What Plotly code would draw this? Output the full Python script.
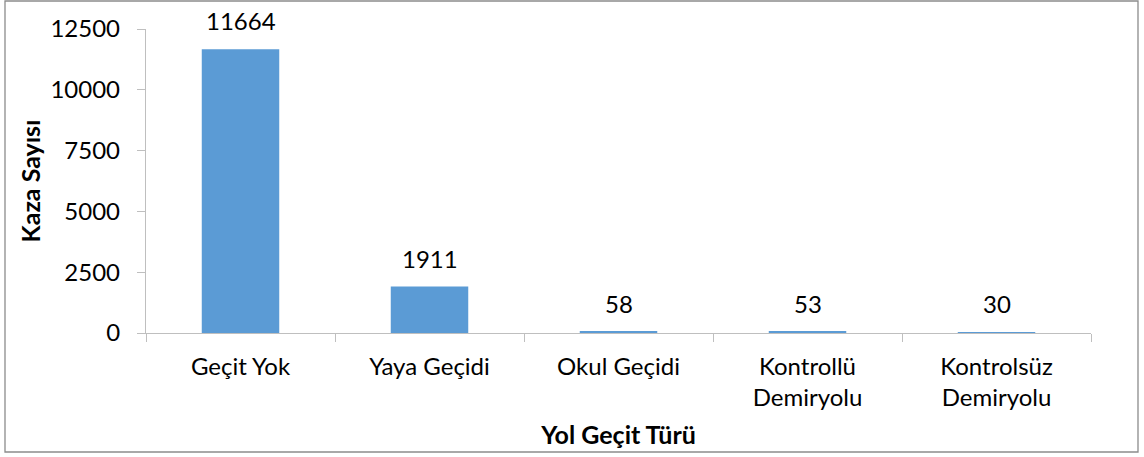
import plotly.graph_objects as go

categories = ["Geçit Yok", "Yaya Geçidi", "Okul Geçidi", "Kontrollü<br>Demiryolu", "Kontrolsüz<br>Demiryolu"]
values = [11664, 1911, 58, 53, 30]
y_ticks = [0, 2500, 5000, 7500, 10000, 12500]

W, H = 1144, 457
ml, mr, mt, mb = 146, 53, 29, 124
pw, ph = W - ml - mr, H - mt - mb

def px_x(x):
    return (x - ml) / pw

def px_y(y):
    return (H - mb - y) / ph

font = "Lato, 'Open Sans', sans-serif"
fs = 24

fig = go.Figure(go.Bar(
    x=categories, y=values,
    marker=dict(color="#5B9BD5", line=dict(width=0)),
    width=0.41,
    hoverinfo="x+y",
))

for c, v in zip(categories, values):
    fig.add_annotation(
        x=c, y=v, xref="x", yref="y", text=str(v), showarrow=False,
        yanchor="bottom", yshift=12, font=dict(family=font, size=fs, color="#000000"),
    )

fig.update_layout(
    width=W, height=H,
    margin=dict(l=ml, r=mr, t=mt, b=mb, autoexpand=False),
    paper_bgcolor="white", plot_bgcolor="white",
    showlegend=False,
    font=dict(family=font, size=fs, color="#000000"),
    xaxis=dict(
        automargin=False,
        showline=True, linecolor="#BFBFBF", linewidth=1.3,
        ticks="outside", tickson="boundaries", ticklen=8, tickcolor="#BFBFBF",
        showgrid=False, tickfont=dict(size=fs), ticklabelstandoff=12,
        title=dict(text="<b>Yol Geçit Türü</b>", font=dict(size=25), standoff=16),
    ),
    yaxis=dict(
        automargin=False,
        range=[0, 12500], tickvals=y_ticks, ticktext=[str(t) for t in y_ticks],
        showline=True, linecolor="#BFBFBF", linewidth=1.3,
        ticks="outside", ticklen=8, tickcolor="#BFBFBF",
        showgrid=False, zeroline=False, tickfont=dict(size=fs), ticklabelstandoff=12,
        title=dict(text="<b>Kaza Sayısı</b>", font=dict(size=25), standoff=2),
    ),
    shapes=[dict(
        type="rect", xref="paper", yref="paper",
        x0=px_x(5), x1=px_x(1138), y0=px_y(452), y1=px_y(1),
        line=dict(color="#8C8C8C", width=1.3), fillcolor="rgba(0,0,0,0)", layer="below",
    )],
)

fig.write_html(
    "out.html",
    config={"displayModeBar": False},
    post_script="document.body.style.margin='0';document.body.style.overflow='hidden';",
)
